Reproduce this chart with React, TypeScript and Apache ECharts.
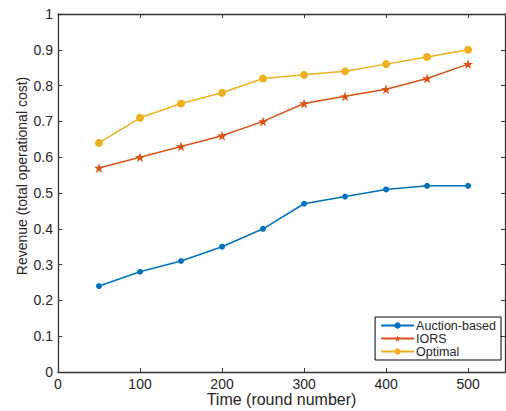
import React, { useEffect, useRef } from "react";
import * as echarts from "echarts";

const rounds = [50, 100, 150, 200, 250, 300, 350, 400, 450, 500];
const auctionBased = [0.24, 0.28, 0.31, 0.35, 0.40, 0.47, 0.49, 0.51, 0.52, 0.52];
const iors = [0.57, 0.60, 0.63, 0.66, 0.70, 0.75, 0.77, 0.79, 0.82, 0.86];
const optimal = [0.64, 0.71, 0.75, 0.78, 0.82, 0.83, 0.84, 0.86, 0.88, 0.90];
const seriesNames = ["Auction-based", "IORS", "Optimal"];

const star =
  "path://M50,0 L61.8,35.4 L99,35.4 L69,57.3 L80.3,92.7 L50,70.8 L19.7,92.7 L31,57.3 L1,35.4 L38.2,35.4 Z";

const font = "Liberation Sans, Arial, Helvetica, sans-serif";
const textColor = "#262626";

export default function App() {
  const ref = useRef<HTMLDivElement>(null);
  useEffect(() => {
    const chart = echarts.init(ref.current!, undefined, { renderer: "svg" });
    const pair = (ys: number[]) => rounds.map((x, i) => [x, ys[i]]);
    const axisCommon = {
      axisLine: { show: true, onZero: false, lineStyle: { color: "#333", width: 1.3 } },
      axisTick: { show: true, inside: true, length: 4, lineStyle: { color: "#333", width: 1 } },
      splitLine: { show: false },
    };
    chart.setOption({
      animation: false,
      backgroundColor: "#fff",
      textStyle: { fontFamily: font },
      grid: { left: 58, top: 14, right: 1, bottom: 39, outerBoundsMode: "none", containLabel: false },
      legend: {
        orient: "vertical",
        right: 5,
        bottom: 51,
        data: seriesNames,
        backgroundColor: "#fff",
        borderColor: "#000",
        borderWidth: 1,
        borderRadius: 0,
        padding: [2, 5, 2, 5],
        itemGap: 0,
        itemWidth: 33,
        itemHeight: 8,
        textStyle: { fontFamily: font, fontSize: 12.5, lineHeight: 13, color: textColor, padding: [0, 0, 0, -3] },
      },
      xAxis: [
        {
          type: "value",
          min: 0,
          max: 545,
          interval: 100,
          position: "bottom",
          ...axisCommon,
          axisLabel: { color: textColor, fontSize: 14, lineHeight: 14, fontFamily: font, margin: 5, showMaxLabel: false },
          name: "Time (round number)",
          nameLocation: "middle",
          nameGap: 19.5,
          nameMoveOverlap: false,
          nameTextStyle: { color: textColor, fontSize: 16, lineHeight: 16, fontFamily: font, verticalAlign: "top" },
        },
        {
          type: "value",
          min: 0,
          max: 545,
          interval: 100,
          position: "top",
          ...axisCommon,
          axisLabel: { show: false },
        },
      ],
      yAxis: [
        {
          type: "value",
          min: 0,
          max: 1,
          interval: 0.1,
          position: "left",
          ...axisCommon,
          axisLabel: { color: textColor, fontSize: 14, fontFamily: font, margin: 5 },
          name: "Revenue (total operational cost)",
          nameLocation: "middle",
          nameGap: 29,
          nameMoveOverlap: false,
          nameRotate: 90,
          nameTextStyle: { color: textColor, fontSize: 14, fontFamily: font, padding: [0, 0, 0, 34] },
        },
        {
          type: "value",
          min: 0,
          max: 1,
          interval: 0.1,
          position: "right",
          ...axisCommon,
          axisLabel: { show: false },
        },
      ],
      series: [
        {
          name: seriesNames[0],
          type: "line",
          data: pair(auctionBased),
          symbol: "circle",
          symbolSize: 6,
          itemStyle: { color: "#0072BD" },
          lineStyle: { color: "#0072BD", width: 1.5 },
        },
        {
          name: seriesNames[1],
          type: "line",
          data: pair(iors),
          symbol: star,
          symbolSize: 10,
          itemStyle: { color: "#D95319" },
          lineStyle: { color: "#D95319", width: 1.5 },
        },
        {
          name: seriesNames[2],
          type: "line",
          data: pair(optimal),
          symbol: "circle",
          symbolSize: 8,
          itemStyle: { color: "#EDB120" },
          lineStyle: { color: "#EDB120", width: 1.5 },
        },
      ],
    });
    return () => chart.dispose();
  }, []);
  return <div ref={ref} style={{ width: 506, height: 411, position: "absolute", left: 0, top: 0 }} />;
}
